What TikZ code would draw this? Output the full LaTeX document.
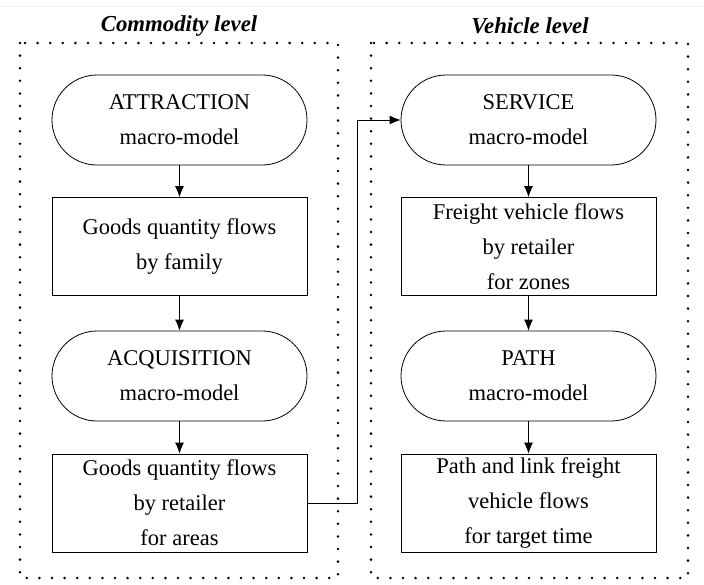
\documentclass[tikz,border=0pt]{standalone}
\usepackage{fontspec}
\setmainfont{Liberation Serif}
\usetikzlibrary{arrows.meta}
\begin{document}
\begin{tikzpicture}[x=1pt,y=-1pt,
  box/.style={draw, line width=0.8pt, align=center, minimum width=255pt, inner sep=0pt,
    font=\fontsize{22.5}{35}\selectfont},
  stad/.style={box, rounded corners=45pt, minimum height=90pt},
  rect/.style={box, minimum height=98pt},
  dotbox/.style={line width=2.8pt, line cap=round, dash pattern=on 0pt off 12.6pt},
  title/.style={font=\fontsize{22.8}{26}\selectfont\bfseries\itshape},
  arr/.style={line width=0.8pt, -{Latex[length=11pt,width=9pt]}}
]
\useasboundingbox (0,0) rectangle (704,584);
\draw[gray!12, line width=0.8pt] (0,6) -- (704,6);
\draw[dotbox] (20,43) rectangle (338,578);
\draw[dotbox] (371,43) rectangle (688,578);
\node[title] (t1) at (179,26) {Commodity level};
\node[title] (t2) at (530,26) {Vehicle level};

\node[stad] (attr) at (179.5,120) {ATTRACTION\\macro-model};
\node[rect] (fam) at (179.5,246.5) {Goods quantity flows\\by family};
\node[stad] (acq) at (179.5,376) {ACQUISITION\\macro-model};
\node[rect] (ret) at (179.5,503) {Goods quantity flows\\by retailer\\for areas};

\node[stad] (serv) at (528.5,120) {SERVICE\\macro-model};
\node[rect] (veh) at (528.5,246.5) {Freight vehicle flows\\by retailer\\for zones};
\node[stad] (path) at (528.5,376) {PATH\\macro-model};
\node[rect] (link) at (528.5,503) {Path and link freight\\vehicle flows\\for target time};

\draw[arr] (attr) -- (fam);
\draw[arr] (fam) -- (acq);
\draw[arr] (acq) -- (ret);
\draw[arr] (serv) -- (veh);
\draw[arr] (veh) -- (path);
\draw[arr] (path) -- (link);

\coordinate (xc) at (357,0);
\draw[arr] (ret.east) -- (ret.east -| xc) |- (serv.west);
\end{tikzpicture}
\end{document}
